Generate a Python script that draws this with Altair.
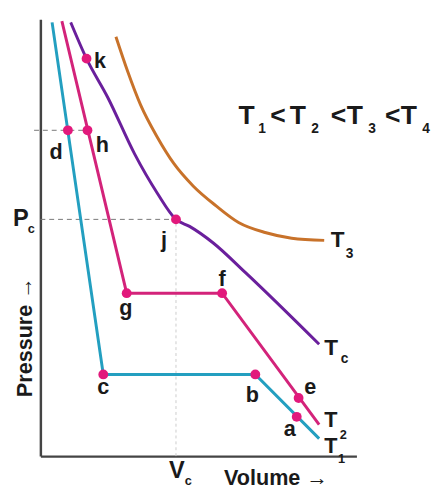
import altair as alt
import pandas as pd

# ---- isotherms (Volume, Pressure in arbitrary units) ----
t1_v = [0.37, 1.99, 6.80, 8.82]
t1_p = [9.93, 1.87, 1.87, 0.40]

t2_v = [0.68, 2.73, 5.75, 8.82]
t2_p = [9.96, 3.73, 3.73, 0.72]

tc_v = [0.96, 1.46, 2.14, 2.98, 3.70, 4.29, 4.72, 5.47, 6.49, 8.82]
tc_p = [9.93, 9.10, 8.20, 6.92, 6.02, 5.42, 5.26, 4.88, 4.20, 2.56]

t3_v = [2.39, 2.76, 3.17, 3.70, 4.22, 4.84, 5.56, 6.27, 7.11, 7.95, 8.98]
t3_p = [9.60, 8.81, 8.04, 7.30, 6.70, 6.18, 5.73, 5.35, 5.12, 4.99, 4.94]

# ---- marked states ----
pt_names = ["k", "d", "h", "j", "g", "f", "c", "b", "e", "a"]
pt_v = [1.46, 0.87, 1.49, 4.29, 2.73, 5.75, 1.99, 6.80, 8.17, 8.11]
pt_p = [9.10, 7.46, 7.46, 5.42, 3.73, 3.73, 1.87, 1.87, 1.33, 0.90]

# label anchors for the marked states
lab_v = [1.89, 0.50, 1.96, 3.91, 2.70, 5.75, 1.99, 6.71, 8.54, 7.89]
lab_p = [8.88, 6.81, 6.97, 4.79, 3.24, 3.89, 1.42, 1.24, 1.42, 0.45]

# critical values
v_c = 4.29
p_c = 5.42
p_dh = 7.46

# ---- text annotations (main glyph + subscript pieces) ----
txt_label = ["T", "1", "<", "T", "2", "<", "T", "3", "<", "T", "4",
             "T", "2", "T", "1", "T", "c", "T", "3",
             "P", "c", "V", "c", "Volume \u2192"]
txt_v = [6.27, 6.89, 7.27, 7.89, 8.57, 9.19, 9.69, 10.37, 10.90, 11.40, 12.08,
         8.98, 9.47, 8.98, 9.42, 8.98, 9.50, 9.19, 9.66,
         -0.87, -0.40, 4.07, 4.57, 5.81]
txt_p = [7.60, 7.39, 7.60, 7.60, 7.39, 7.60, 7.60, 7.39, 7.60, 7.60, 7.39,
         0.67, 0.40, 0.08, -0.15, 2.31, 2.13, 4.79, 4.54,
         5.28, 5.10, -0.49, -0.67, -0.65]
txt_size = [27, 14, 27, 27, 14, 27, 27, 14, 27, 27, 14,
            22, 13, 22, 13, 23, 14, 23, 14,
            24, 13, 24, 13, 22]

curves = pd.concat([
    pd.DataFrame({"V": t1_v, "P": t1_p, "T": "T1", "i": range(len(t1_v))}),
    pd.DataFrame({"V": t2_v, "P": t2_p, "T": "T2", "i": range(len(t2_v))}),
])
smooth = pd.concat([
    pd.DataFrame({"V": tc_v, "P": tc_p, "T": "Tc", "i": range(len(tc_v))}),
    pd.DataFrame({"V": t3_v, "P": t3_p, "T": "T3", "i": range(len(t3_v))}),
])
points = pd.DataFrame({"V": pt_v, "P": pt_p, "name": pt_names})
plabels = pd.DataFrame({"V": lab_v, "P": lab_p, "name": pt_names})
texts = pd.DataFrame({"V": txt_v, "P": txt_p, "label": txt_label, "size": txt_size})
ylabel = pd.DataFrame({"V": [-0.25], "P": [1.35], "label": ["Pressure \u2192"]})

dash_h = pd.DataFrame({"V": [-0.2, 0.0], "V2": [pt_v[2], v_c], "P": [p_dh, p_c]})
dash_v = pd.DataFrame({"V": [v_c], "P": [0.0], "P2": [p_c]})

xs = alt.Scale(domain=[0, 10], nice=False, zero=False)
ys = alt.Scale(domain=[0, 10], nice=False, zero=False)
color = alt.Color("T:N", legend=None,
                  scale=alt.Scale(domain=["T1", "T2", "Tc", "T3"],
                                  range=["#239fc0", "#d3237a", "#6a1f9c", "#c8722a"]))

base_x = alt.X("V:Q", scale=xs, title=None)
base_y = alt.Y("P:Q", scale=ys, title=None)

lines = alt.Chart(curves).mark_line(strokeWidth=3).encode(
    x=base_x, y=base_y, color=color, detail="T:N", order="i:Q")
smooth_lines = alt.Chart(smooth).mark_line(strokeWidth=3, interpolate="monotone").encode(
    x=base_x, y=base_y, color=color, detail="T:N", order="i:Q")

dashes = alt.Chart(dash_h).mark_rule(strokeDash=[5, 4], color="#777777", strokeWidth=1).encode(
    x=base_x, x2="V2:Q", y=base_y)
vdash = alt.Chart(dash_v).mark_rule(strokeDash=[3, 3], color="#cccccc", strokeWidth=1).encode(
    x=base_x, y=base_y, y2="P2:Q")

dots = alt.Chart(points).mark_circle(size=100, color="#e2197c", opacity=1).encode(
    x=base_x, y=base_y)

dot_text = alt.Chart(plabels).mark_text(
    font="Liberation Sans", fontWeight="bold", fontSize=22, align="center",
    baseline="alphabetic", color="#1a1a1a").encode(x=base_x, y=base_y, text="name:N")

other_text = alt.Chart(texts).mark_text(
    font="Liberation Sans", fontWeight="bold", align="left",
    baseline="alphabetic", color="#1a1a1a").encode(
    x=base_x, y=base_y, text="label:N", size=alt.Size("size:Q", scale=None, legend=None))

y_text = alt.Chart(ylabel).mark_text(
    font="Liberation Sans", fontWeight="bold", fontSize=22, align="left",
    baseline="alphabetic", angle=270, color="#1a1a1a").encode(
    x=base_x, y=base_y, text="label:N")

chart = alt.layer(vdash, dashes, smooth_lines, lines, dots, dot_text, other_text, y_text).properties(
    width=322, height=445,
    autosize=alt.AutoSizeParams(type="none"),
    padding={"left": 33, "top": 7, "right": 78, "bottom": 32},
    background="white",
).configure_axis(
    domain=True, labels=False, ticks=False, grid=False,
    domainColor="#444444", domainWidth=2.5,
).configure_view(stroke=None)

chart.save("out.html", embed_options={"renderer": "svg", "actions": False})
